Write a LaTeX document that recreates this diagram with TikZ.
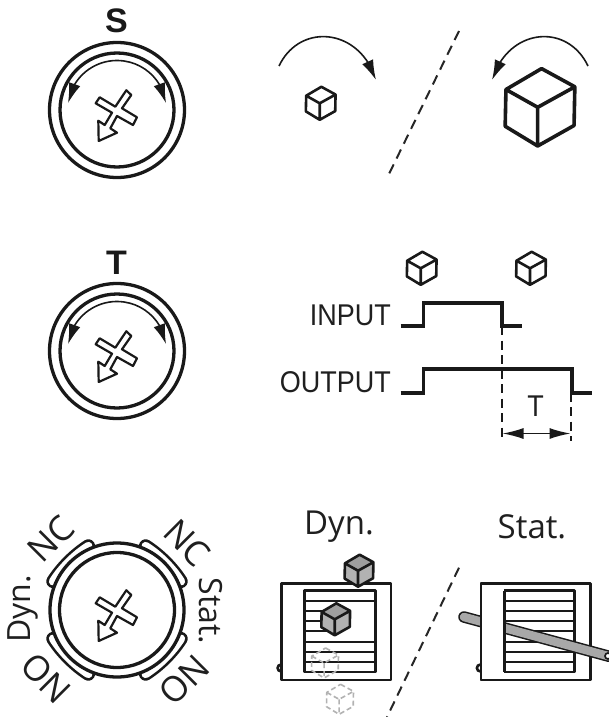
\documentclass[tikz,border=0pt]{standalone}
\usepackage{fontspec}
\setmainfont{Liberation Sans}
\newfontfamily\labelfont{Open Sans}
\usetikzlibrary{arrows.meta,bending}
\definecolor{penGray}{gray}{0.66}
\definecolor{ghostGray}{gray}{0.70}
\tikzset{
  x=1pt,y=-1pt,
  ink/.style={line width=#1,draw=black!90,line join=round},
  ink/.default=2.4pt,
  ringline/.style={draw=black!90,line width=3.3pt},
  wave/.style={draw=black!90,line width=3.6pt,line join=miter},
  guide/.style={draw=black!90,line width=1.6pt,dash pattern=on 9pt off 5.5pt},
  slant/.style={draw=black!85,line width=2pt,dash pattern=on 10pt off 6.5pt},
  bigtip/.style={-{Latex[length=20pt,width=12pt,flex]}},
  twotip/.style={{Latex[length=20pt,width=12pt,flex]}-{Latex[length=20pt,width=12pt,flex]}},
  wavelabel/.style={font=\fontsize{30}{30}\selectfont,xscale=.9,text=black!88,inner sep=0pt},
  sidelabel/.style={font=\labelfont\fontsize{33}{33}\selectfont,text=black!88,inner sep=0pt},
  diallabel/.style={font=\labelfont\fontsize{32}{32}\selectfont,text=black!88,inner sep=0pt},
  cornerlabel/.style={font=\labelfont\fontsize{35}{35}\selectfont,text=black!88,inner sep=0pt},
  letter/.style={font=\bfseries\fontsize{34}{34}\selectfont,text=black!90,inner sep=0pt},
  pics/knob/.style={code={
    \draw[ink=2.2pt,fill=white]
      (9.3,-19.7)--(14.3,-15)--(5,-1.7)--(20,7.3)--(16,15)--(0,6)--(-6.7,18.3)--(0,22.7)
      --(-18.3,31)--(-18.7,10.7)--(-12.3,15)--(-5,2.7)--(-21.3,-6.7)--(-17.3,-12.7)--(-1.7,-3.3)--cycle;
  }},
  pics/cube/.style args={#1/#2/#3/#4/#5}{code={
    \path[fill=#4] (.9*#1,-.53*#1)--(.88*#1,.47*#1)--(-.06*#1,#1)--(-.9*#1,.49*#1)--(-.88*#1,-.46*#1)--(-.06*#1,0)--cycle;
    \path[fill=#5] (.04*#1,-#1)--(.9*#1,-.53*#1)--(-.06*#1,0)--(-.88*#1,-.46*#1)--cycle;
    \draw[line width=#2,draw=#3,line join=round]
      (.04*#1,-#1)--(.9*#1,-.53*#1)--(.88*#1,.47*#1)--(-.06*#1,#1)--(-.9*#1,.49*#1)--(-.88*#1,-.46*#1)--cycle
      (-.88*#1,-.46*#1)--(-.06*#1,0)--(.9*#1,-.53*#1) (-.06*#1,0)--(-.06*#1,#1);
  }},
  pics/ghost/.style={code={
    \draw[line width=1.6pt,draw=ghostGray,dash pattern=on 5pt off 3pt,line join=round]
      (.04*15,-15)--(.9*15,-.53*15)--(.88*15,.47*15)--(-.06*15,15)--(-.9*15,.49*15)--(-.88*15,-.46*15)--cycle;
    \draw[line width=1.6pt,draw=ghostGray,dash pattern=on 5pt off 3pt]
      (-.88*15,-.46*15)--(-.06*15,0)--(.9*15,-.53*15) (-.06*15,0)--(-.06*15,15);
  }}
}
\begin{document}
\begin{tikzpicture}
\useasboundingbox[fill=white] (0,0) rectangle (609,717);

% ---------- S row
\node[letter] (sLetter) at (116.5,21) {S};
\coordinate (sC) at (117,110);
\draw[ringline] (sC) circle (67.5);
\draw[ringline] (sC) circle (57);
\draw[draw=black!90,line width=1.6pt,twotip] (68,103.1) arc[start angle=188,end angle=352,radius=49.5];
\pic at (sC) {knob};
\coordinate (topArcAs) at (279,66);
\coordinate (topArcAe) at (376,80);
\draw[draw=black!90,line width=1.6pt,bigtip] (topArcAs) .. controls (300,22) and (360,28) .. (topArcAe);
\coordinate (topArcBs) at (588,66);
\coordinate (topArcBe) at (492,80);
\draw[draw=black!90,line width=1.6pt,bigtip] (topArcBs) .. controls (567,22) and (508,28) .. (topArcBe);
\coordinate (slashAa) at (459,31);
\coordinate (slashAb) at (387,178);
\draw[slant] (slashAa) -- (slashAb);
\pic at (320.7,103.3) {cube={16.5/2.6pt/black!90/white/white}};
\pic at (540,107.3) {cube={38.7/3.6pt/black!90/white/white}};

% ---------- T row
\node[letter] (tLetter) at (116.5,262.5) {T};
\coordinate (tC) at (117,351);
\draw[ringline] (tC) circle (67.5);
\draw[ringline] (tC) circle (57);
\draw[draw=black!90,line width=1.6pt,twotip] (68,344.1) arc[start angle=188,end angle=352,radius=49.5];
\pic at (tC) {knob};
\pic at (421.7,268.3) {cube={16.5/2.6pt/black!90/white/white}};
\pic at (531,268.3) {cube={16.5/2.6pt/black!90/white/white}};
\node[wavelabel,anchor=east] (inLabel) at (391,315) {INPUT};
\node[wavelabel,anchor=east] (outLabel) at (391,382.5) {OUTPUT};
\coordinate (inA) at (400.7,326);
\coordinate (outA) at (400.7,392.7);
\draw[wave] (inA) -- (423.3,326) -- (423.3,302.7) -- (501.7,302.7) -- (501.7,326) -- (522.3,326);
\draw[wave] (outA) -- (423.3,392.7) -- (423.3,369) -- (571.7,369) -- (571.7,392.7) -- (591.7,392.7);
\coordinate (dashA) at (501.7,326);
\coordinate (dashAb) at (501.7,441);
\coordinate (dashB) at (571,392.7);
\coordinate (dashBb) at (571,441);
\draw[guide] (dashA) -- (dashAb);
\draw[guide] (dashB) -- (dashBb);
\coordinate (dimA) at (502.5,433.5);
\coordinate (dimB) at (570.5,433.5);
\draw[draw=black!90,line width=1.5pt,{Latex[length=21pt,width=11pt]}-{Latex[length=21pt,width=11pt]}] (dimA) -- (dimB);
\node[wavelabel] (tVal) at (535.7,406) {T};

% ---------- third row: dial
\coordinate (dC) at (117,610);
\foreach \ang in {45,135,225,315}{
  \begin{scope}[shift={(dC)},rotate=\ang]
    \draw[draw=black!90,line width=13.5pt,line cap=round] (65.5,-25) .. controls (69,-9) and (69,9) .. (65.5,25);
    \draw[draw=white,line width=8.3pt,line cap=round] (65.5,-25) .. controls (69,-9) and (69,9) .. (65.5,25);
  \end{scope}
}
\draw[ringline,fill=white] (dC) circle (67);
\draw[ringline] (dC) circle (57.5);
\pic at (dC) {knob};
\node[cornerlabel,rotate=45] (nc1) at (51,539) {NC};
\node[cornerlabel,rotate=-45] (nc2) at (187,543) {NC};
\node[diallabel,rotate=90] (dyn1) at (23,609) {Dyn.};
\node[diallabel,rotate=-90] (stat1) at (210.7,611) {Stat.};
\node[cornerlabel,rotate=135] (no1) at (46,678) {NO};
\node[cornerlabel,rotate=225] (no2) at (184,680) {NO};

% ---------- Dyn panel
\node[sidelabel] (dynT) at (339,527) {Dyn.};
\node[sidelabel] (statT) at (532,526.5) {Stat.};
\draw[line width=2.6pt,draw=black!90,fill=white] (281,668) circle (3.4);
\draw[ink=2.6pt,fill=white] (281.7,583.3) rectangle (391,680);
\draw[ink=2.6pt,fill=white] (304.3,590.7) rectangle (375.7,672);
\foreach \yy in {601,641.7,651.7,662.3}{\draw[ink=1.9pt] (304.3,\yy) -- (375.7,\yy);}
\foreach \yy in {611,621,631}{\draw[ink=1.9pt] (304.3,\yy) -- (330,\yy);}
\pic at (325,663) {ghost};
\pic at (340,699.3) {ghost};
\pic at (359,570.7) {cube={16/2.6pt/black!90/black!30/black!38}};
\pic at (335.7,619.3) {cube={16/2.6pt/black!90/black!30/black!38}};

% ---------- slash
\coordinate (slashBa) at (459,567.7);
\coordinate (slashBb) at (387,717);
\draw[slant] (slashBa) -- (slashBb);

% ---------- Stat panel
\draw[line width=2.6pt,draw=black!90,fill=white] (480.3,668) circle (3.4);
\draw[ink=2.6pt,fill=white] (481,583.3) rectangle (590.3,680);
\draw[ink=2.6pt,fill=white] (504.3,590.7) rectangle (574.3,672);
\foreach \yy in {601,611,621,631,641.7,651.7,662.3}{\draw[ink=1.9pt] (504.3,\yy) -- (574.3,\yy);}
\coordinate (penA) at (464,617);
\coordinate (penB) at (609,656.3);
\draw[draw=black!90,line width=11.5pt,line cap=round] (penA) -- (penB);
\draw[draw=penGray,line width=8.5pt,line cap=round] (penA) -- (penB);
\draw[ink=1.7pt,fill=white] (608,656) circle (3);
\fill[white] (481,583.3) rectangle (504.3,680);
\draw[ink=2.6pt] (504.3,583.3) -- (481,583.3) -- (481,680) -- (504.3,680);
\draw[ink=2.6pt] (504.3,590.7) -- (504.3,672);
\end{tikzpicture}
\end{document}
